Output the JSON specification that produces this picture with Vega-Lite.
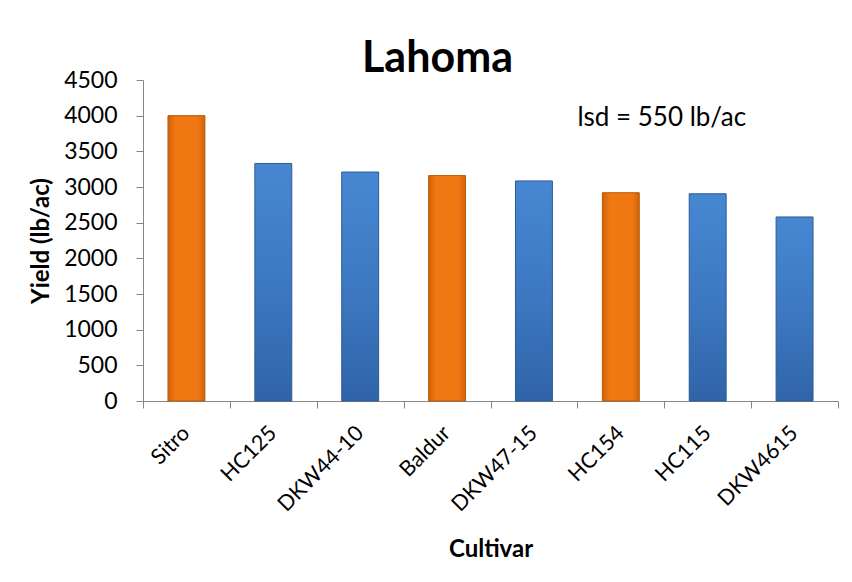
{
  "$schema": "https://vega.github.io/schema/vega-lite/v6.json",
  "width": 695,
  "height": 321,
  "autosize": {"type": "none"},
  "padding": {"left": 143, "top": 80, "right": 14, "bottom": 181},
  "background": "white",
  "config": {
    "view": {"stroke": null},
    "font": "Lato",
    "axis": {
      "labelFont": "Lato",
      "labelColor": "black",
      "titleFont": "Lato",
      "titleFontSize": 24,
      "titleFontWeight": "bold",
      "titleColor": "black",
      "domainColor": "#868686",
      "tickColor": "#868686",
      "grid": false,
      "labelOverlap": false,
      "labelFlush": false
    }
  },
  "title": {
    "text": "Lahoma",
    "fontSize": 43,
    "fontWeight": "bold",
    "font": "Lato",
    "color": "black",
    "anchor": "middle",
    "dx": -53,
    "offset": -12
  },
  "datasets": {
    "yields": [
      {"Cultivar": "Sitro", "Yield": 4000, "Group": "Check"},
      {"Cultivar": "HC125", "Yield": 3330, "Group": "Entry"},
      {"Cultivar": "DKW44-10", "Yield": 3210, "Group": "Entry"},
      {"Cultivar": "Baldur", "Yield": 3160, "Group": "Check"},
      {"Cultivar": "DKW47-15", "Yield": 3085, "Group": "Entry"},
      {"Cultivar": "HC154", "Yield": 2920, "Group": "Check"},
      {"Cultivar": "HC115", "Yield": 2905, "Group": "Entry"},
      {"Cultivar": "DKW4615", "Yield": 2580, "Group": "Entry"}
    ]
  },
  "encoding": {
    "x": {
      "field": "Cultivar",
      "type": "nominal",
      "sort": ["Sitro", "HC125", "DKW44-10", "Baldur", "DKW47-15", "HC154", "HC115", "DKW4615"],
      "scale": {"paddingInner": 0, "paddingOuter": 0},
      "axis": {
        "title": "Cultivar",
        "labelAngle": -45,
        "labelFontSize": 21.5,
        "tickBand": "extent",
        "tickSize": 7,
        "labelPadding": 14,
        "labelOffset": -8,
        "titlePadding": 22
      }
    },
    "y": {
      "field": "Yield",
      "type": "quantitative",
      "scale": {"domain": [0, 4500], "nice": false},
      "axis": {
        "title": "Yield (lb/ac)",
        "format": "d",
        "values": [0, 500, 1000, 1500, 2000, 2500, 3000, 3500, 4000, 4500],
        "labelOverlap": false,
        "labelFontSize": 23,
        "tickSize": 7,
        "labelPadding": 19,
        "titlePadding": 10
      }
    }
  },
  "layer": [
    {
      "data": {"name": "yields"},
      "transform": [{"filter": "datum.Group == 'Check'"}],
      "mark": {
        "type": "bar",
        "width": {"band": 0.425},
        "stroke": "#B85A0A",
        "strokeWidth": 1,
        "color": {
          "gradient": "linear",
          "x1": 0, "y1": 0, "x2": 1, "y2": 0,
          "stops": [
            {"offset": 0, "color": "#D0620A"},
            {"offset": 0.2, "color": "#F07812"},
            {"offset": 0.8, "color": "#F07812"},
            {"offset": 1, "color": "#D0620A"}
          ]
        }
      }
    },
    {
      "data": {"name": "yields"},
      "transform": [{"filter": "datum.Group == 'Entry'"}],
      "mark": {
        "type": "bar",
        "width": {"band": 0.425},
        "stroke": "#2C5A95",
        "strokeWidth": 1,
        "color": {
          "gradient": "linear",
          "x1": 0, "y1": 0, "x2": 0, "y2": 1,
          "stops": [
            {"offset": 0, "color": "#4787D2"},
            {"offset": 0.5, "color": "#3D79C2"},
            {"offset": 1, "color": "#3064A8"}
          ]
        }
      }
    },
    {
      "data": {"values": [{"note": "lsd = 550 lb/ac", "Cultivar": "HC154", "Yield": 3970}]},
      "mark": {"type": "text", "fontSize": 26, "font": "Lato", "color": "black", "align": "center", "baseline": "middle", "dx": 41},
      "encoding": {
        "text": {"field": "note"}
      }
    }
  ]
}
